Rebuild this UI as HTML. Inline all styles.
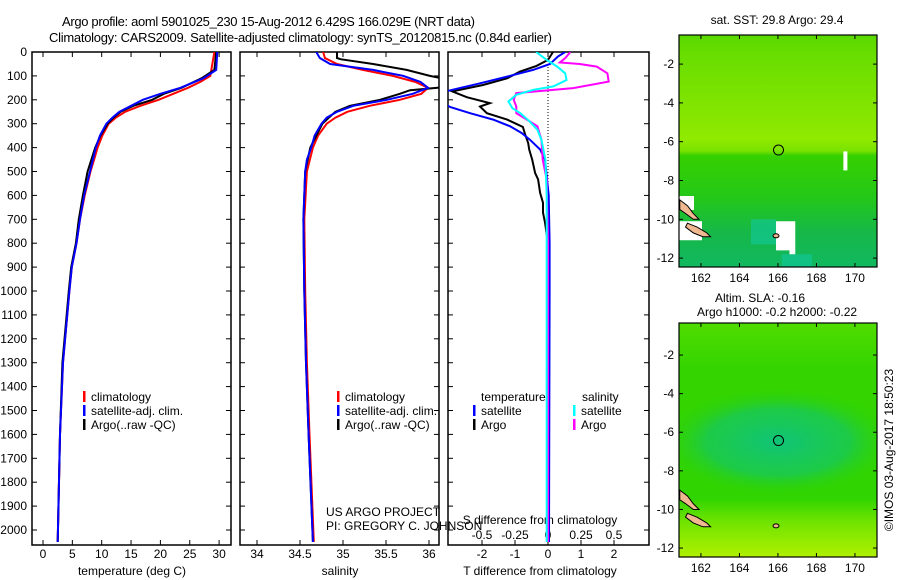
<!DOCTYPE html>
<html><head><meta charset="utf-8"><style>
body{margin:0;background:#fff}
svg{display:block;font-family:"Liberation Sans",sans-serif}
text{font-size:12px;fill:#000}
</style></head><body>
<svg id="chart" width="900" height="580" viewBox="0 0 900 580" xmlns="http://www.w3.org/2000/svg">
<defs>
<clipPath id="c1"><rect x="32" y="52" width="199" height="493"/></clipPath>
<clipPath id="c2"><rect x="240" y="52" width="199" height="493"/></clipPath>
<clipPath id="c3"><rect x="448" y="52" width="201" height="493"/></clipPath>
<clipPath id="cm1"><rect x="679" y="35" width="198" height="232"/></clipPath>
<clipPath id="cm2"><rect x="679" y="323" width="198" height="234"/></clipPath>
<linearGradient id="g1" x1="0" y1="0" x2="0" y2="1">
<stop offset="0" stop-color="#5ad800"/><stop offset="0.1" stop-color="#6ade00"/><stop offset="0.3" stop-color="#80e400"/><stop offset="0.45" stop-color="#90ea00"/><stop offset="0.5" stop-color="#78e200"/><stop offset="0.52" stop-color="#36d000"/><stop offset="0.7" stop-color="#24c818"/><stop offset="0.85" stop-color="#16b848"/><stop offset="1" stop-color="#12b860"/>
</linearGradient>
<linearGradient id="g2" x1="0" y1="0" x2="0" y2="1">
<stop offset="0" stop-color="#50dc00"/><stop offset="0.2" stop-color="#34d400"/><stop offset="0.75" stop-color="#30d400"/><stop offset="0.85" stop-color="#70e400"/><stop offset="1" stop-color="#b0f000"/>
</linearGradient>
<radialGradient id="r2" cx="0.5" cy="0.5" r="0.5"><stop offset="0" stop-color="#10c478"/><stop offset="0.6" stop-color="#18c858" stop-opacity="0.8"/><stop offset="1" stop-color="#30d400" stop-opacity="0"/></radialGradient>
</defs>
<rect width="900" height="580" fill="#fff"/>
<text x="62" y="26" style="font-size:13px" textLength="413">Argo profile: aoml 5901025_230 15-Aug-2012 6.429S 166.029E (NRT data)</text>
<text x="49" y="42" style="font-size:13px" textLength="503">Climatology: CARS2009. Satellite-adjusted climatology: synTS_20120815.nc (0.84d earlier)</text>
<g id="axes"></g>
<g id="series"></g>
<g id="maps"></g>
</svg>
<script>
// ---- data ----
const depthTicks=[0,100,200,300,400,500,600,700,800,900,1000,1100,1200,1300,1400,1500,1600,1700,1800,1900,2000];
const tempTicks=[0,5,10,15,20,25,30];
const salTicks=[34,34.5,35,35.5,36];
const tdiffTicks=[-2,-1,0,1,2];
const sdiffTicks=[-0.5,-0.25,0,0.25,0.5];
const sdiffLabels=["-0.5","-0.25","0","0.25","0.5"];
// temperature profiles [depth, temp]
const tempClim=[[0,29.2],[100,28.5],[125,26.8],[150,24.7],[175,22.2],[200,19.7],[225,16.6],[250,14],[275,12.4],[300,11.2],[350,10.1],[400,9.3],[450,8.7],[500,8.1],[600,7.1],[700,6.3],[800,5.7],[900,4.9],[1000,4.5],[1300,3.4],[1600,2.9],[2050,2.5]];
const tempSat=[[0,29.7],[75,29.5],[110,27.3],[150,23.4],[175,20],[200,17],[225,15],[250,13],[275,11.8],[300,10.8],[350,9.7],[400,9.0],[500,8.0],[600,7.0],[700,6.3],[800,5.7],[900,4.9],[1000,4.5],[1300,3.4],[1600,2.9],[2050,2.5]];
const tempArgo=[[0,29.5],[75,29.2],[110,27],[150,23.6],[175,20.6],[200,18.6],[225,15.4],[250,13.2],[275,12],[300,11],[350,9.8],[400,8.9],[500,7.6],[600,6.8],[700,6.1],[800,5.6],[900,4.8],[1000,4.4],[1300,3.3],[1600,2.9],[2050,2.5]];
// salinity profiles [depth, salinity]
const salClim=[[0,34.77],[25,34.79],[50,34.93],[75,35.23],[100,35.58],[125,35.84],[150,35.99],[175,35.91],[200,35.66],[225,35.31],[250,35.05],[275,34.91],[300,34.81],[350,34.71],[400,34.65],[500,34.58],[700,34.55],[1000,34.56],[1300,34.58],[1600,34.61],[2050,34.66]];
const salSat=[[0,34.69],[25,34.73],[50,34.85],[75,35.35],[100,35.70],[125,35.9],[150,35.99],[175,35.81],[200,35.51],[225,35.12],[250,34.93],[275,34.81],[300,34.75],[350,34.67],[400,34.63],[450,34.58],[500,34.56],[700,34.54],[1000,34.55],[1300,34.57],[1600,34.6],[2050,34.65]];
const salArgo=[[0,34.93],[25,34.93],[30,34.97],[50,35.35],[75,35.74],[100,36.01],[110,36.15],[130,36.3],[150,36.1],[160,35.78],[175,35.66],[200,35.43],[225,35.08],[250,34.91],[300,34.76],[400,34.62],[500,34.56],[700,34.54],[1000,34.55],[1300,34.57],[1600,34.6],[2050,34.65]];
// differences [depth, value]
const tdiffSat=[[0,0.52],[19,0.3],[50,0.06],[75,-0.45],[103,-1.24],[131,-2.06],[158,-2.9],[175,-3.4],[200,-3.3],[230,-2.97],[256,-2.36],[283,-1.66],[311,-1.15],[339,-0.8],[367,-0.55],[408,-0.24],[450,-0.09],[600,0.02],[800,0.05],[1000,0.05],[2050,0.03]];
const tdiffArgo=[[0,0.15],[33,0],[58,-0.35],[82,-0.85],[110,-1.24],[138,-1.97],[165,-2.9],[189,-2.46],[214,-1.76],[228,-2.06],[256,-1.85],[283,-1.24],[314,-0.76],[342,-0.7],[381,-0.6],[408,-0.57],[450,-0.48],[506,-0.39],[533,-0.3],[589,-0.24],[631,-0.15],[672,-0.15],[714,-0.09],[800,0],[1100,0.03],[2050,0]];
const sdiffArgo=[[0,0.17],[26,0.13],[44,0.09],[50,0.24],[61,0.37],[89,0.45],[124,0.46],[151,0.19],[172,-0.24],[200,-0.26],[228,-0.24],[256,-0.24],[283,-0.16],[311,-0.08],[367,-0.05],[450,-0.04],[533,-0.01],[800,0],[2050,0]];
const sdiffSat=[[0,-0.09],[33,-0.01],[61,0.07],[89,0.13],[117,0.14],[144,0.04],[158,-0.11],[179,-0.24],[207,-0.3],[235,-0.27],[256,-0.21],[290,-0.14],[325,-0.08],[367,-0.05],[450,-0.02],[600,-0.01],[2050,-0.01]];
const mapLonTicks=[162,164,166,168,170];
const mapLatTicks=[-2,-4,-6,-8,-10,-12];
const argoLon=166.029, argoLat=-6.429;

// ---- scales ----
const NS='http://www.w3.org/2000/svg';
const yD=d=>52+0.239*d;
const xT=t=>43+5.87*t;
const xS=s=>257+86*(s-34);
const xTd=t=>548+33*t;
const xSd=s=>548+132*s;
const axes=document.getElementById('axes');
const series=document.getElementById('series');
function mk(tag,attrs,parent){const e=document.createElementNS(NS,tag);for(const k in attrs)e.setAttribute(k,attrs[k]);parent.appendChild(e);return e;}
function txt(x,y,s,anchor,parent){const t=mk('text',{x:x,y:y,'text-anchor':anchor||'start'},parent);t.textContent=s;return t;}

const panels=[{x0:32,x1:231,name:'temperature-panel'},{x0:240,x1:439,name:'salinity-panel'},{x0:448,x1:649,name:'difference-panel'}];
panels.forEach(p=>{
  const r=mk('rect',{x:p.x0,y:52,width:p.x1-p.x0,height:493,fill:'none',stroke:'#000','stroke-width':1.5},axes);
  
  
  depthTicks.forEach(d=>{
    mk('line',{x1:p.x0,x2:p.x0+5,y1:yD(d),y2:yD(d),stroke:'#000'},axes);
    mk('line',{x1:p.x1-5,x2:p.x1,y1:yD(d),y2:yD(d),stroke:'#000'},axes);
  });
});
depthTicks.forEach(d=>{
  const t=txt(27,yD(d)+4,String(d),'end',axes);
  
  
});
function xticks(vals,fx,labels,ly){
  vals.forEach((v,i)=>{
    mk('line',{x1:fx(v),x2:fx(v),y1:52,y2:57,stroke:'#000'},axes);
    mk('line',{x1:fx(v),x2:fx(v),y1:540,y2:545,stroke:'#000'},axes);
    if(labels){const t=txt(fx(v),ly,labels[i],'middle',axes);
      
      }
  });
}
xticks(tempTicks,xT,tempTicks.map(String),558);
xticks(salTicks,xS,salTicks.map(String),558);
xticks(tdiffTicks,xTd,tdiffTicks.map(String),558);
sdiffTicks.forEach((v,i)=>{const t=txt(xSd(v),539,sdiffLabels[i],'middle',axes);
  
  });
let at;
at=txt(132,575,'temperature (deg C)','middle',axes);
at=txt(340,575,'salinity','middle',axes);
at=txt(540,575,'T difference from climatology','middle',axes);
at=txt(540,524,'S difference from climatology','middle',axes);
at=txt(326,516,'US ARGO PROJECT','start',axes);
at=txt(326,530,'PI: GREGORY C. JOHNSON','start',axes);
// zero line
const zl=mk('line',{x1:548,x2:548,y1:52,y2:300,stroke:'#000','stroke-dasharray':'1,2'},axes);



function line(data,fx,color,clip,name){
  const pts=data.map(p=>fx(p[1]).toFixed(1)+','+yD(p[0]).toFixed(1)).join(' ');
  const pl=mk('polyline',{points:pts,fill:'none',stroke:color,'stroke-width':2,'clip-path':'url(#'+clip+')'},series);
  
  
}
line(tempClim,xT,'#f00','c1','temp-climatology-line');
line(tempArgo,xT,'#000','c1','temp-argo-line');
line(tempSat,xT,'#00f','c1','temp-satellite-line');
line(salClim,xS,'#f00','c2','sal-climatology-line');
line(salArgo,xS,'#000','c2','sal-argo-line');
line(salSat,xS,'#00f','c2','sal-satellite-line');
line(tdiffArgo,xTd,'#000','c3','tdiff-argo-line');
line(tdiffSat,xTd,'#00f','c3','tdiff-satellite-line');
line(sdiffArgo,xSd,'#f0f','c3','sdiff-argo-line');
line(sdiffSat,xSd,'#0ff','c3','sdiff-satellite-line');

// legends
function legend(x,y,color,label){
  mk('rect',{x:x,y:y-10,width:2.5,height:11,fill:color},axes);
  const t=txt(x+8,y,label,'start',axes);
  
  
}
legend(83,401,'#f00','climatology');legend(83,415,'#00f','satellite-adj. clim.');legend(83,429,'#000','Argo(..raw -QC)');
legend(337,401,'#f00','climatology');legend(337,415,'#00f','satellite-adj. clim.');legend(337,429,'#000','Argo(..raw -QC)');
at=txt(481,401,'temperature','start',axes);
at=txt(582,401,'salinity','start',axes);
legend(473,415,'#00f','satellite');legend(473,429,'#000','Argo');
legend(573,415,'#0ff','satellite');legend(573,429,'#f0f','Argo');

// maps
const maps=document.getElementById('maps');
function drawMap(top,bottom,latTop,pxPerLat,fill,clip,name,extra){
  const lonX=l=>679+(l-160.86)*19.25;
  const latY=l=>top+(latTop-l)*pxPerLat;
  const g=mk('g',{'clip-path':'url(#'+clip+')'},maps);
  const bg=mk('rect',{x:679,y:top,width:198,height:bottom-top,fill:fill},g);
  
  
  extra(g,lonX,latY);
  mk('polygon',{points:[[160.9,-9],[161.3,-9.3],[161.6,-9.7],[161.9,-10],[161.6,-10],[161.2,-9.7],[160.9,-9.5]].map(p=>lonX(p[0])+','+latY(p[1])).join(' '),fill:'#f0b890',stroke:'#000','stroke-width':1},g);
  mk('polygon',{points:[[161.3,-10.2],[161.8,-10.4],[162.3,-10.7],[162.5,-10.9],[162.1,-10.9],[161.6,-10.7],[161.2,-10.4]].map(p=>lonX(p[0])+','+latY(p[1])).join(' '),fill:'#f0b890',stroke:'#000','stroke-width':1},g);
  mk('ellipse',{cx:lonX(165.9),cy:latY(-10.85),rx:3,ry:2,fill:'#f0b890',stroke:'#000'},g);
  const c=mk('circle',{cx:lonX(argoLon),cy:latY(argoLat),r:5,fill:'none',stroke:'#000','stroke-width':1},maps);
  
  
  const fr=mk('rect',{x:679,y:top,width:198,height:bottom-top,fill:'none',stroke:'#000','stroke-width':1.2},maps);
  
  
  mapLonTicks.forEach(l=>{
    mk('line',{x1:lonX(l),x2:lonX(l),y1:top,y2:top+4,stroke:'#000'},maps);
    mk('line',{x1:lonX(l),x2:lonX(l),y1:bottom-4,y2:bottom,stroke:'#000'},maps);
    const t=txt(lonX(l),bottom+15,String(l),'middle',maps);
    
    
  });
  mapLatTicks.forEach(l=>{
    mk('line',{x1:679,x2:683,y1:latY(l),y2:latY(l),stroke:'#000'},maps);
    mk('line',{x1:873,x2:877,y1:latY(l),y2:latY(l),stroke:'#000'},maps);
    const t=txt(674,latY(l)+4,String(l),'end',maps);
    
    
  });
}
drawMap(35,267,-0.5,19.4,'url(#g1)','cm1','sst-map',(g,lx,ly)=>{
  mk('rect',{x:lx(164.6),y:ly(-10),width:25,height:25,fill:'#10c8a0',opacity:0.6},g);
  mk('rect',{x:lx(166.2),y:ly(-11.8),width:30,height:20,fill:'#10c8a0',opacity:0.6},g);
  mk('rect',{x:679,y:ly(-8.8),width:15,height:14,fill:'#fff'},g);
  mk('rect',{x:679,y:ly(-10.1),width:23,height:19,fill:'#fff'},g);
  mk('polygon',{points:[[lx(165.9),ly(-10.1)],[lx(166.9),ly(-10.1)],[lx(166.9),ly(-11.8)],[lx(166.6),ly(-11.8)],[lx(166.6),ly(-11.6)],[lx(165.9),ly(-11.6)]].join(' '),fill:'#fff'},g);
  mk('rect',{x:lx(169.4),y:ly(-6.5),width:4,height:19,fill:'#fff'},g);
});
drawMap(323,557,-0.34,19.3,'url(#g2)','cm2','sla-map',(g,lx,ly)=>{
  mk('ellipse',{cx:lx(166),cy:ly(-6.5),rx:120,ry:55,fill:'url(#r2)'},g);
});
at=txt(777,24,'sat. SST: 29.8 Argo: 29.4','middle',maps);
at=txt(760,302,'Altim. SLA: -0.16','middle',maps);
at=txt(777,316,'Argo h1000: -0.2 h2000: -0.22','middle',maps);
at=txt(0,0,'\u00a9IMOS 03-Aug-2017 18:50:23','middle',maps);at.setAttribute('transform','translate(893,450) rotate(-90)');
</script>
</body></html>
